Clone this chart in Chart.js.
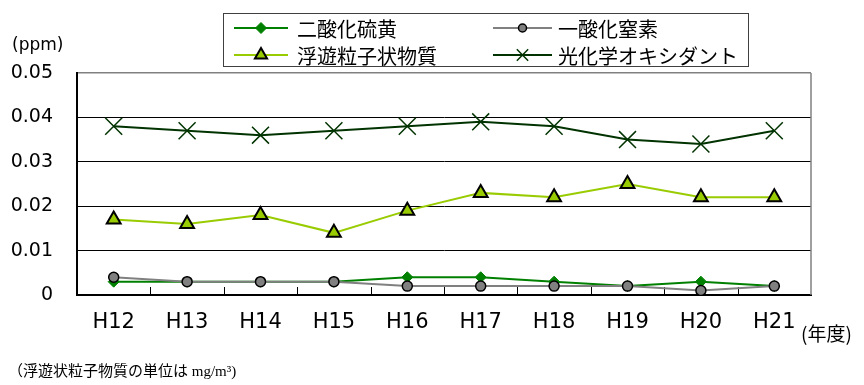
<!DOCTYPE html>
<html lang="ja">
<head>
<meta charset="utf-8">
<title>大気汚染物質濃度の推移</title>
<script src="https://cdn.jsdelivr.net/npm/chart.js@4/dist/chart.umd.min.js"></script>
<style>
  html, body { margin: 0; padding: 0; background: #ffffff; }
  #wrap { width: 864px; height: 385px; }
</style>
</head>
<body>
<div id="wrap"><canvas id="c" width="864" height="385"></canvas></div>
<script>
// 年度
const years = ['H12', 'H13', 'H14', 'H15', 'H16', 'H17', 'H18', 'H19', 'H20', 'H21'];
// 各物質の年平均値 (ppm、浮遊粒子状物質は mg/m3)
const so2 = [0.003, 0.003, 0.003, 0.003, 0.004, 0.004, 0.003, 0.002, 0.003, 0.002];
const no  = [0.004, 0.003, 0.003, 0.003, 0.002, 0.002, 0.002, 0.002, 0.001, 0.002];
const spm = [0.017, 0.016, 0.018, 0.014, 0.019, 0.023, 0.022, 0.025, 0.022, 0.022];
const ox  = [0.038, 0.037, 0.036, 0.037, 0.038, 0.039, 0.038, 0.035, 0.034, 0.037];
// 縦軸の目盛
const yTicks = [0, 0.01, 0.02, 0.03, 0.04, 0.05];
const seriesNames = ['二酸化硫黄', '一酸化窒素', '浮遊粒子状物質', '光化学オキシダント'];

const LATIN = '"DejaVu Sans", "Liberation Sans", sans-serif';
const CJK = '"Noto Sans CJK JP", "Noto Sans", sans-serif';

const datasets = [
  {
    label: seriesNames[0], data: so2, order: 3,
    borderColor: '#008000', borderWidth: 2,
    pointStyle: 'rectRot', pointRadius: 5.5,
    pointBackgroundColor: '#008000', pointBorderColor: '#008000', pointBorderWidth: 1,
    legendRadius: 5.5
  },
  {
    label: seriesNames[1], data: no, order: 2,
    borderColor: '#808080', borderWidth: 2,
    pointStyle: 'circle', pointRadius: 5,
    pointBackgroundColor: '#808080', pointBorderColor: '#000000', pointBorderWidth: 1.5,
    legendRadius: 4
  },
  {
    label: seriesNames[2], data: spm, order: 1,
    borderColor: '#99cc00', borderWidth: 2,
    pointStyle: 'triangle', pointRadius: 8,
    pointBackgroundColor: '#99cc00', pointBorderColor: '#000000', pointBorderWidth: 2,
    legendRadius: 7
  },
  {
    label: seriesNames[3], data: ox, order: 0,
    borderColor: '#003300', borderWidth: 2,
    pointStyle: 'crossRot', pointRadius: 12,
    pointBackgroundColor: '#003300', pointBorderColor: '#003300', pointBorderWidth: 1.5,
    legendRadius: 8
  }
];

// 枠付きの2列凡例、単位表記、右と上の枠線、横軸の内向き目盛
const decorations = {
  id: 'decorations',
  beforeDatasetsDraw(chart) {
    const { ctx, chartArea: a, scales } = chart;
    const xs = scales.x;
    ctx.save();
    // 右枠
    ctx.strokeStyle = '#808080';
    ctx.lineWidth = 1.5;
    ctx.beginPath();
    ctx.moveTo(a.right, a.top);
    ctx.lineTo(a.right, a.bottom);
    ctx.stroke();
    // 横軸の区切り目盛 (内向き)
    ctx.strokeStyle = '#000000';
    ctx.lineWidth = 1;
    for (let i = 1; i < years.length; i++) {
      const x = Math.round((xs.getPixelForValue(i - 1) + xs.getPixelForValue(i)) / 2) + 0.5;
      ctx.beginPath();
      ctx.moveTo(x, a.bottom);
      ctx.lineTo(x, a.bottom - 8);
      ctx.stroke();
    }
    ctx.restore();
  },
  afterDraw(chart) {
    const { ctx } = chart;
    ctx.save();

    // 凡例の枠
    ctx.fillStyle = '#ffffff';
    ctx.fillRect(223, 13, 525, 54);
    ctx.strokeStyle = '#404040';
    ctx.lineWidth = 1;
    ctx.strokeRect(223.5, 13.5, 525, 53);

    const cols = [{ x0: 234, x1: 288, tx: 297 }, { x0: 493, x1: 552, tx: 558 }];
    const rows = [28, 55];
    chart.data.datasets.forEach((ds, i) => {
      const c = cols[i % 2];
      const y = rows[Math.floor(i / 2)];
      ctx.strokeStyle = ds.borderColor;
      ctx.lineWidth = ds.borderWidth;
      ctx.beginPath();
      ctx.moveTo(c.x0, y);
      ctx.lineTo(c.x1, y);
      ctx.stroke();
      ctx.fillStyle = ds.pointBackgroundColor;
      ctx.strokeStyle = ds.pointBorderColor;
      ctx.lineWidth = ds.pointBorderWidth;
      Chart.helpers.drawPoint(ctx, {
        pointStyle: ds.pointStyle,
        radius: ds.legendRadius,
        rotation: 0,
        borderWidth: ds.pointBorderWidth
      }, (c.x0 + c.x1) / 2, y);
      ctx.fillStyle = '#000000';
      ctx.font = '20px ' + CJK;
      ctx.textAlign = 'left';
      ctx.textBaseline = 'middle';
      ctx.fillText(ds.label, c.tx, y + 1);
    });

    // 単位
    ctx.fillStyle = '#000000';
    ctx.textBaseline = 'middle';
    ctx.textAlign = 'left';
    ctx.font = '17px ' + LATIN;
    ctx.fillText('(ppm)', 12, 46);
    ctx.font = '19px ' + CJK;
    ctx.fillText('(年度)', 801, 334);
    ctx.font = '15px "Liberation Serif", ' + CJK;
    ctx.fillText('（浮遊状粒子物質の単位は mg/m³)', 8, 372);
    ctx.restore();
  }
};

new Chart(document.getElementById('c'), {
  type: 'line',
  data: { labels: years, datasets },
  options: {
    responsive: false,
    animation: false,
    events: [],
    layout: { padding: { top: 73, right: 53, bottom: 0, left: 0 } },
    plugins: { legend: { display: false }, tooltip: { enabled: false } },
    elements: { line: { tension: 0 } },
    scales: {
      x: {
        type: 'category',
        offset: true,
        grid: { display: false, drawTicks: false },
        border: { display: true, color: '#000000', width: 2 },
        ticks: { color: '#000000', padding: 15, font: { family: LATIN, size: 21 } },
        afterFit(scale) { scale.height = 90; }
      },
      y: {
        min: yTicks[0],
        max: yTicks[yTicks.length - 1],
        afterBuildTicks(scale) { scale.ticks = yTicks.map(v => ({ value: v })); },
        grid: {
          drawTicks: false,
          color: ctx => (ctx.tick && ctx.tick.value === yTicks[yTicks.length - 1]) ? '#808080' : '#000000',
          lineWidth: ctx => (ctx.tick && ctx.tick.value === yTicks[yTicks.length - 1]) ? 1.5 : 1
        },
        border: { display: true, color: '#000000', width: 2 },
        ticks: {
          color: '#000000',
          padding: 24,
          font: { family: LATIN, size: 19 },
          callback: v => (v === 0 ? '0' : v.toFixed(2))
        },
        afterFit(scale) { scale.width = 77; }
      }
    }
  },
  plugins: [decorations]
});
</script>
</body>
</html>
